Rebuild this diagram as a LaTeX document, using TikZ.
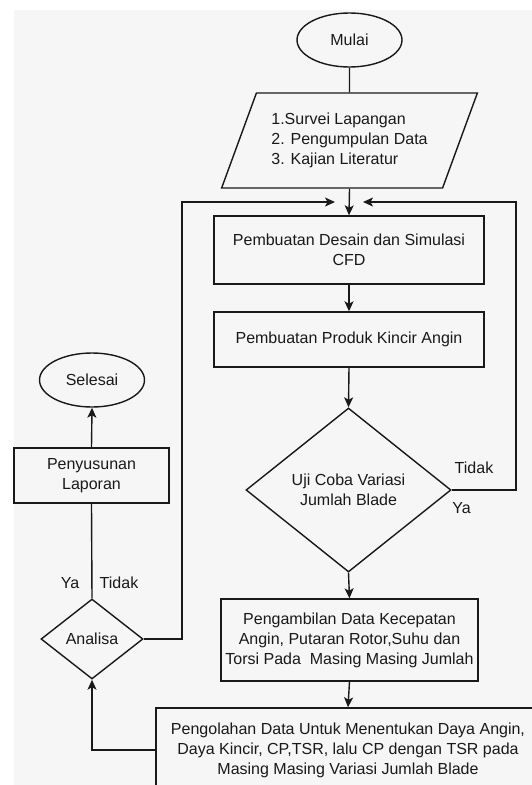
\documentclass[tikz,border=0pt]{standalone}
\usepackage{fontspec}
\setmainfont{Liberation Sans}
\usepackage{tikz}
\usetikzlibrary{calc}
\usetikzlibrary{arrows.meta}
\usetikzlibrary{positioning}
\usetikzlibrary{shapes}
\definecolor{PaperGrey}{RGB}{246,246,246}
\definecolor{InkGrey}{RGB}{25,25,25}
\tikzset{
	flowText/.style={font=\fontsize{16}{20}\selectfont, text=InkGrey},
	procBox/.style={flowText, draw=InkGrey, line width=1.4pt, rectangle, align=center, inner sep=0pt},
	termEllipse/.style={flowText, draw=InkGrey, line width=1.4pt, ellipse, inner sep=0pt, minimum width=105pt, minimum height=54pt},
	decDiamond/.style={flowText, draw=InkGrey, line width=1.4pt, diamond, align=center, inner sep=0pt},
	ioShape/.style={flowText, draw=InkGrey, line width=1.4pt, trapezium, trapezium left angle=62, trapezium right angle=118, trapezium stretches=true, align=left, inner sep=0pt},
	flowLine/.style={draw=InkGrey, line width=1.4pt},
	flowArrow/.style={flowLine, -{Stealth[length=10pt,width=9pt,inset=2.5pt]}}
}

\begin{document}
\begin{tikzpicture}[x=1pt, y=-1pt]
		\useasboundingbox (0,0) rectangle (532,785);
		\clip (0,0) rectangle (532,785);
		\fill [PaperGrey] (14,10) rectangle (532,785);
	
		% main column
		\node [termEllipse] (mulai) at (349.5,40) {Mulai};
		\node [ioShape, minimum width=256pt, minimum height=95pt] (survei) at (349.5,140.5) {1.Survei Lapangan\\2. Pengumpulan Data\\3. Kajian Literatur};
		\node [procBox, minimum width=270pt, minimum height=68pt] (desain) at (349,250) {Pembuatan Desain dan Simulasi\\CFD};
		\node [procBox, minimum width=270pt, minimum height=55pt] (produk) at (349,339.5) {Pembuatan Produk Kincir Angin};
		\node [decDiamond, minimum width=205pt, minimum height=164pt] (uji) at (348.5,490) {Uji Coba Variasi\\Jumlah Blade};
		\node [procBox, minimum width=257pt, minimum height=82pt] (ambil) at (349.5,640) {Pengambilan Data Kecepatan\\Angin, Putaran Rotor,Suhu dan\\Torsi Pada\ \ Masing Masing Jumlah};
		\node [procBox, minimum width=384pt, minimum height=84pt] (olah) at (348,750) {Pengolahan Data Untuk Menentukan Daya Angin,\\Daya Kincir, CP,TSR, lalu CP dengan TSR pada\\Masing Masing Variasi Jumlah Blade};
		
		% left column
		\node [termEllipse] (selesai) at (92,380) {Selesai};
		\node [procBox, minimum width=155pt, minimum height=55pt] (lapor) at (91.5,475.5) {Penyusunan\\Laporan};
		\node [decDiamond, minimum width=102pt, minimum height=80pt] (analisa) at (92,639) {Analisa};
		
		\coordinate (sudutKiri) at (182,202);
		\coordinate (sudutKanan) at (516,202);
		\coordinate (masukKiri) at (335,202);
		\coordinate (masukKanan) at (363,202);
		
		\draw [flowLine] (mulai.south) -- (survei.north);
		\draw [flowArrow] (survei.south) -- (desain.north);
		\draw [flowArrow] (desain.south) -- (produk.north);
		\draw [flowArrow] (produk.south) -- (uji.north);
		\draw [flowArrow] (uji.south) -- (ambil.north);
		\draw [flowArrow] (ambil.south) -- (olah.north);
		\draw [flowArrow] (olah.west) -| (analisa.south);
		\draw [flowLine] (analisa.north) -- (lapor.south);
		\draw [flowArrow] (lapor.north) -- (selesai.south);
		\draw [flowArrow] (analisa.east) -| (sudutKiri) -- (masukKiri); %back to desain
		\draw [flowArrow] (uji.east) -| (sudutKanan) -- (masukKanan); %tidak
		
		\node [flowText] (ujiTidak) at (474,468) {Tidak};
		\node [flowText] (ujiYa) at (461.5,508) {Ya};
		\node [flowText] (anYa) at (70,583) {Ya};
		\node [flowText] (anTidak) at (119,583) {Tidak};
	\end{tikzpicture}
\end{document}
